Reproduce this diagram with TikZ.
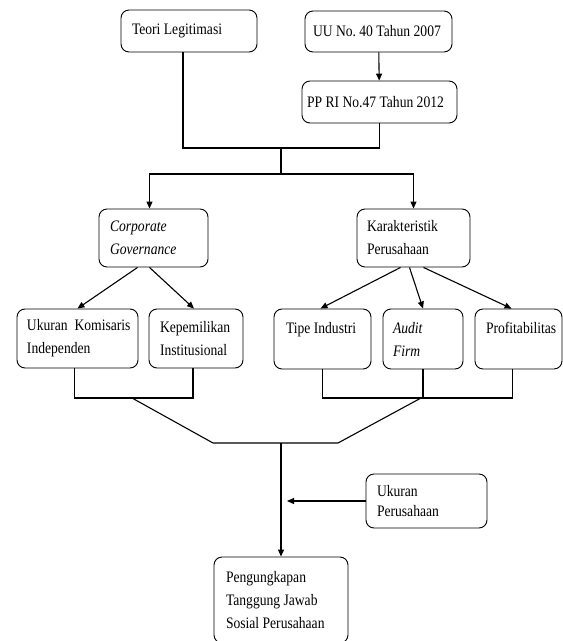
\documentclass[tikz,border=0pt]{standalone}
\usepackage{fontspec}
\setmainfont{Liberation Serif}[FakeStretch=0.85]
\usetikzlibrary{arrows.meta}
\frenchspacing
\hyphenpenalty=10000
\exhyphenpenalty=10000
\tikzset{
  box/.style={draw, line width=0.9pt, rounded corners=8pt, align=flush left, inner xsep=10pt, inner ysep=0pt,
    font=\fontsize{16}{23}\selectfont},
  arr/.style={line width=1.1pt, -{Triangle[length=7pt,width=6pt]}},
  ln/.style={line width=1.1pt}
}
\begin{document}
\begin{tikzpicture}[x=1pt,y=-1pt]
\useasboundingbox (0,0) rectangle (563,641);
% top row
\node[box, minimum width=136pt, minimum height=42pt, text width=114pt, inner xsep=11pt] (teori) at (189,31) {\mbox{Teori Legitimasi}};
\node[box, minimum width=147pt, minimum height=41pt, text width=131pt, inner xsep=8pt] (uu) at (378.5,31.5) {\mbox{UU No. 40 Tahun 2007}};
\node[box, minimum width=155pt, minimum height=42pt, text width=145pt, inner xsep=5pt] (pp) at (379.5,102) {\mbox{PP RI No.47 Tahun 2012}};
% second row
\node[box, minimum width=109pt, minimum height=58pt, text width=87pt, inner xsep=11pt] (cg) at (153.5,238) {\textit{Corporate}\\\textit{Governance}};
\node[box, minimum width=113pt, minimum height=58pt, text width=93pt] (kp) at (413.5,238) {Karakteristik\\Perusahaan};
% third row
\node[box, minimum width=121pt, minimum height=59pt, text width=101pt] (uki) at (77.5,338.5) {\mbox{Ukuran\ \ Komisaris}\\Independen};
\node[box, minimum width=94pt, minimum height=59pt, text width=72pt, inner xsep=11pt] (ki) at (196,338.5) {\mbox{Kepemilikan}\\\mbox{Institusional}};
\node[box, minimum width=97pt, minimum height=60pt, text width=73pt, inner xsep=12pt] (ti) at (322.5,339) {\mbox{Tipe Industri}\\\mbox{}};
\node[box, minimum width=80pt, minimum height=60pt, text width=60pt] (af) at (423,339) {\textit{Audit}\\\textit{Firm}};
\node[box, minimum width=87pt, minimum height=60pt, text width=65pt, inner xsep=11pt] (prof) at (518.5,339) {\mbox{Profitabilitas}\\\mbox{}};
% lower part
\node[box, minimum width=121pt, minimum height=54pt, text width=99pt, inner xsep=11pt, font=\fontsize{16}{20}\selectfont] (up) at (426.5,501) {Ukuran\\Perusahaan};
\node[box, minimum width=134pt, minimum height=86pt, text width=110pt, inner xsep=12pt] (ptj) at (281,600) {Pengungkapan\\\mbox{Tanggung Jawab}\\\mbox{Sosial Perusahaan}};
% coordinates
\coordinate (j1) at (281,148);
\coordinate (j2) at (281,174);
\coordinate (bl) at (132,398);
\coordinate (bm1) at (213,443);
\coordinate (bm2) at (338,443);
\coordinate (br) at (421,398);
\coordinate (jb) at (281,443);
\coordinate (ua) at (287,501);
\coordinate (ul) at ([xshift=-3pt]uki.south);
\coordinate (kl) at ([xshift=-3pt]ki.south);
\coordinate (pr) at ([xshift=-6pt]prof.south);
% connectors
\draw[arr] (uu) -- (pp);
\draw[ln] ([xshift=-6pt]teori.south) |- (j1) -| (pp.south);
\draw[ln] (j1) -- (j2);
\draw[arr] (j2) -| ([xshift=-4pt]cg.north);
\draw[arr] (j2) -| (kp.north);
\draw[arr] ([xshift=-16pt]cg.south) -- (uki.north);
\draw[arr] ([xshift=-4pt]cg.south) -- ([xshift=-2pt]ki.north);
\draw[arr] ([xshift=-13pt]kp.south) -- ([xshift=-2pt]ti.north);
\draw[arr] ([xshift=-4pt]kp.south) -- (af.north);
\draw[arr] ([xshift=10pt]kp.south) -- ([xshift=-7pt]prof.north);
\draw[ln] (ul) -- (ul |- bl) -- (kl |- bl) -- (kl);
\draw[ln] (ti.south) -- (ti.south |- br) -- (pr |- br) -- (pr);
\draw[ln] (af.south) -- (af.south |- br);
\draw[ln] (bl) -- (bm1) -- (bm2) -- (br);
\draw[arr] (jb) -- (ptj.north);
\draw[arr] (up.west) -- (ua);
\end{tikzpicture}
\end{document}
